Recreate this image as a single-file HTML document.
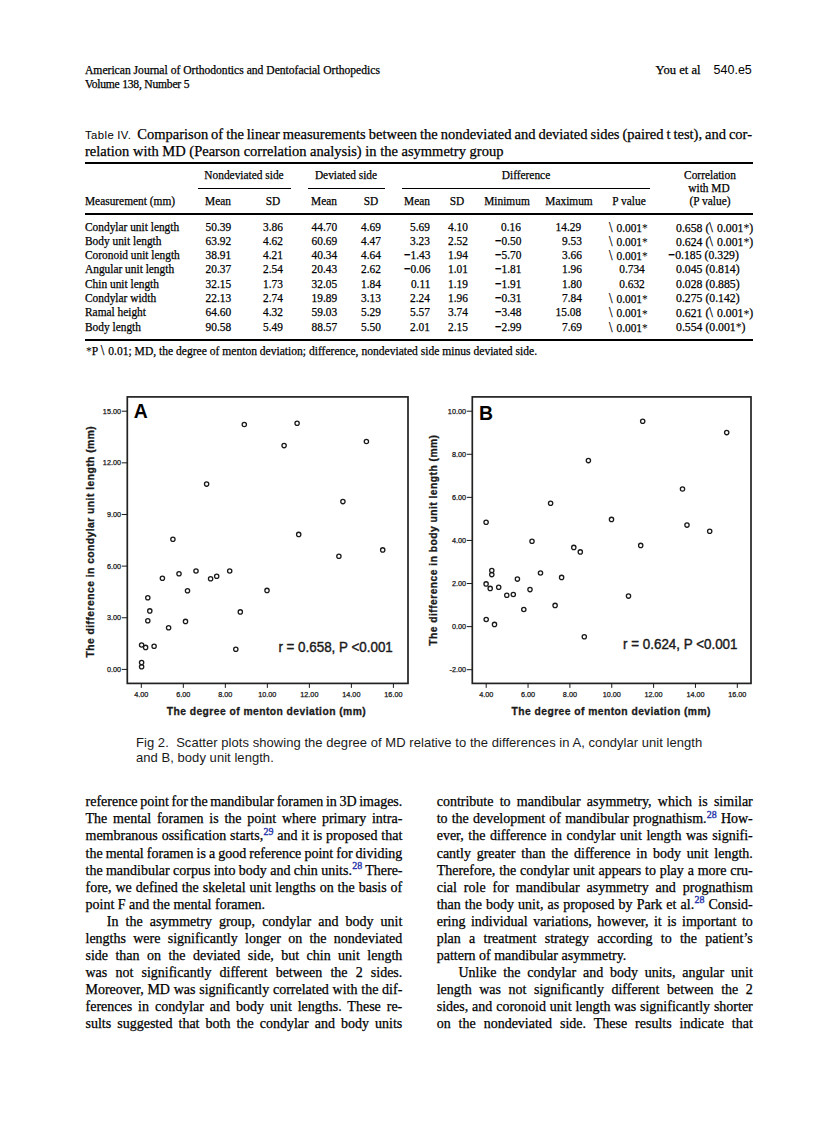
<!DOCTYPE html>
<html><head><meta charset="utf-8"><style>
html,body{margin:0;padding:0;background:#fff;}
body{width:838px;height:1122px;position:relative;overflow:hidden;font-family:"Liberation Serif",serif;color:#000;}
.b{position:absolute;white-space:nowrap;line-height:1;-webkit-text-stroke:0.25px #000;}
.r{position:absolute;background:#000;}
sup.ref{color:#1f30a8;-webkit-text-stroke:0.35px #1f30a8;font-size:0.71em;vertical-align:0;position:relative;top:-0.53em;margin-left:0.3px;}
sup.st{font-size:0.75em;vertical-align:0;position:relative;top:-0.3em;}
.bs{font-size:1.12em;margin:0 1.2px 0 0;}
.as{font-size:1.0em;-webkit-text-stroke:0;position:relative;top:0.02em;line-height:0;}
.m{font-family:'Liberation Sans',sans-serif;font-weight:700;-webkit-text-stroke:0;margin-right:0.3px;}
svg{position:absolute;left:0;top:0;}
svg text{font-family:"Liberation Sans",sans-serif;}
.tk{font-size:7.9px;fill:#111;stroke:#111;stroke-width:0.25px;}
.lt{font-size:19.4px;font-weight:700;fill:#000;}
.al{font-size:10.3px;font-weight:700;fill:#1a1a1a;stroke:#1a1a1a;stroke-width:0.3px;}
.rt{font-size:13.9px;fill:#1a1a1a;stroke:#1a1a1a;stroke-width:0.4px;}
circle{fill:none;stroke:#1a1a1a;stroke-width:1.3;}
</style></head><body>
<div class="b" style="left:85.00px;top:65.08px;font-size:11.6px;">American Journal of Orthodontics and Dentofacial Orthopedics</div>
<div class="b" style="left:85.00px;top:78.58px;font-size:11.6px;letter-spacing:-0.22px;">Volume 138, Number 5</div>
<div class="b" style="right:137.50px;text-align:right;top:64.05px;font-size:12.6px;">You et al</div>
<div class="b" style="right:86.20px;text-align:right;top:63.62px;font-family:'Liberation Sans', sans-serif;-webkit-text-stroke:0;font-size:12.5px;">540.e5</div>
<div class="b" style="left:85.00px;width:667.00px;text-align:justify;text-align-last:justify;top:127.46px;font-size:14.5px;word-spacing:-0.9px;"><span style="font-family:'Liberation Sans',sans-serif;font-size:11.3px;letter-spacing:0.45px;-webkit-text-stroke:0">Table IV.</span>&nbsp; Comparison of the linear measurements between the nondeviated and deviated sides (paired t test), and cor-</div>
<div class="b" style="left:85.00px;top:144.16px;font-size:14.5px;">relation with MD (Pearson correlation analysis) in the asymmetry group</div>
<div class="r" style="left:85px;width:667.5px;top:162px;height:2px"></div>
<div class="r" style="left:198px;width:93.30000000000001px;top:187.5px;height:1.6px"></div>
<div class="r" style="left:308.2px;width:76.90000000000003px;top:187.5px;height:1.6px"></div>
<div class="r" style="left:402px;width:248.39999999999998px;top:187.5px;height:1.6px"></div>
<div class="r" style="left:85px;width:667.5px;top:213px;height:2.3px"></div>
<div class="r" style="left:85px;width:667.5px;top:339.2px;height:1.7px"></div>
<div class="b" style="left:44.00px;width:400px;text-align:center;top:169.23px;font-size:12.5px;transform:scaleX(0.91);transform-origin:center 0;">Nondeviated side</div>
<div class="b" style="left:146.00px;width:400px;text-align:center;top:169.23px;font-size:12.5px;transform:scaleX(0.91);transform-origin:center 0;">Deviated side</div>
<div class="b" style="left:325.80px;width:400px;text-align:center;top:168.93px;font-size:12.5px;transform:scaleX(0.91);transform-origin:center 0;">Difference</div>
<div class="b" style="left:509.70px;width:400px;text-align:center;top:168.63px;font-size:12.5px;transform:scaleX(0.91);transform-origin:center 0;">Correlation</div>
<div class="b" style="left:509.40px;width:400px;text-align:center;top:181.53px;font-size:12.5px;transform:scaleX(0.91);transform-origin:center 0;">with MD</div>
<div class="b" style="left:509.90px;width:400px;text-align:center;top:194.93px;font-size:12.5px;transform:scaleX(0.91);transform-origin:center 0;">(P value)</div>
<div class="b" style="left:85.00px;top:194.73px;font-size:12.5px;transform:scaleX(0.91);transform-origin:left 0;">Measurement (mm)</div>
<div class="b" style="left:17.80px;width:400px;text-align:center;top:194.83px;font-size:12.5px;transform:scaleX(0.91);transform-origin:center 0;">Mean</div>
<div class="b" style="left:72.70px;width:400px;text-align:center;top:194.83px;font-size:12.5px;transform:scaleX(0.91);transform-origin:center 0;">SD</div>
<div class="b" style="left:123.90px;width:400px;text-align:center;top:194.83px;font-size:12.5px;transform:scaleX(0.91);transform-origin:center 0;">Mean</div>
<div class="b" style="left:171.20px;width:400px;text-align:center;top:194.83px;font-size:12.5px;transform:scaleX(0.91);transform-origin:center 0;">SD</div>
<div class="b" style="left:216.50px;width:400px;text-align:center;top:194.83px;font-size:12.5px;transform:scaleX(0.91);transform-origin:center 0;">Mean</div>
<div class="b" style="left:257.30px;width:400px;text-align:center;top:194.83px;font-size:12.5px;transform:scaleX(0.91);transform-origin:center 0;">SD</div>
<div class="b" style="left:306.70px;width:400px;text-align:center;top:194.83px;font-size:12.5px;transform:scaleX(0.91);transform-origin:center 0;">Minimum</div>
<div class="b" style="left:369.10px;width:400px;text-align:center;top:194.83px;font-size:12.5px;transform:scaleX(0.91);transform-origin:center 0;">Maximum</div>
<div class="b" style="left:429.00px;width:400px;text-align:center;top:194.83px;font-size:12.5px;transform:scaleX(0.91);transform-origin:center 0;">P value</div>
<div class="b" style="left:85.00px;top:220.53px;font-size:12.5px;transform:scaleX(0.91);transform-origin:left 0;">Condylar unit length</div>
<div class="b" style="right:607.20px;text-align:right;top:220.53px;font-size:12.5px;transform:scaleX(0.91);transform-origin:right 0;">50.39</div>
<div class="b" style="right:555.00px;text-align:right;top:220.53px;font-size:12.5px;transform:scaleX(0.91);transform-origin:right 0;">3.86</div>
<div class="b" style="right:500.70px;text-align:right;top:220.53px;font-size:12.5px;transform:scaleX(0.91);transform-origin:right 0;">44.70</div>
<div class="b" style="right:456.80px;text-align:right;top:220.53px;font-size:12.5px;transform:scaleX(0.91);transform-origin:right 0;">4.69</div>
<div class="b" style="right:407.70px;text-align:right;top:220.53px;font-size:12.5px;transform:scaleX(0.91);transform-origin:right 0;">5.69</div>
<div class="b" style="right:370.50px;text-align:right;top:220.53px;font-size:12.5px;transform:scaleX(0.91);transform-origin:right 0;">4.10</div>
<div class="b" style="right:317.00px;text-align:right;top:220.53px;font-size:12.5px;transform:scaleX(0.91);transform-origin:right 0;">0.16</div>
<div class="b" style="right:256.50px;text-align:right;top:220.53px;font-size:12.5px;transform:scaleX(0.91);transform-origin:right 0;">14.29</div>
<div class="b" style="left:608.80px;top:220.53px;font-size:12.5px;transform:scaleX(0.91);transform-origin:left 0;"><span class="bs">\</span> 0.001<span class="as">*</span></div>
<div class="b" style="left:676.00px;top:220.53px;font-size:12.5px;transform:scaleX(0.94);transform-origin:left 0;">0.658 (<span class="bs">\</span> 0.001<span class="as">*</span>)</div>
<div class="b" style="left:85.00px;top:234.83px;font-size:12.5px;transform:scaleX(0.91);transform-origin:left 0;">Body unit length</div>
<div class="b" style="right:607.20px;text-align:right;top:234.83px;font-size:12.5px;transform:scaleX(0.91);transform-origin:right 0;">63.92</div>
<div class="b" style="right:555.00px;text-align:right;top:234.83px;font-size:12.5px;transform:scaleX(0.91);transform-origin:right 0;">4.62</div>
<div class="b" style="right:500.70px;text-align:right;top:234.83px;font-size:12.5px;transform:scaleX(0.91);transform-origin:right 0;">60.69</div>
<div class="b" style="right:456.80px;text-align:right;top:234.83px;font-size:12.5px;transform:scaleX(0.91);transform-origin:right 0;">4.47</div>
<div class="b" style="right:407.70px;text-align:right;top:234.83px;font-size:12.5px;transform:scaleX(0.91);transform-origin:right 0;">3.23</div>
<div class="b" style="right:370.50px;text-align:right;top:234.83px;font-size:12.5px;transform:scaleX(0.91);transform-origin:right 0;">2.52</div>
<div class="b" style="right:317.00px;text-align:right;top:234.83px;font-size:12.5px;transform:scaleX(0.91);transform-origin:right 0;"><span class="m">−</span>0.50</div>
<div class="b" style="right:256.50px;text-align:right;top:234.83px;font-size:12.5px;transform:scaleX(0.91);transform-origin:right 0;">9.53</div>
<div class="b" style="left:608.80px;top:234.83px;font-size:12.5px;transform:scaleX(0.91);transform-origin:left 0;"><span class="bs">\</span> 0.001<span class="as">*</span></div>
<div class="b" style="left:676.00px;top:234.83px;font-size:12.5px;transform:scaleX(0.94);transform-origin:left 0;">0.624 (<span class="bs">\</span> 0.001<span class="as">*</span>)</div>
<div class="b" style="left:85.00px;top:249.13px;font-size:12.5px;transform:scaleX(0.91);transform-origin:left 0;">Coronoid unit length</div>
<div class="b" style="right:607.20px;text-align:right;top:249.13px;font-size:12.5px;transform:scaleX(0.91);transform-origin:right 0;">38.91</div>
<div class="b" style="right:555.00px;text-align:right;top:249.13px;font-size:12.5px;transform:scaleX(0.91);transform-origin:right 0;">4.21</div>
<div class="b" style="right:500.70px;text-align:right;top:249.13px;font-size:12.5px;transform:scaleX(0.91);transform-origin:right 0;">40.34</div>
<div class="b" style="right:456.80px;text-align:right;top:249.13px;font-size:12.5px;transform:scaleX(0.91);transform-origin:right 0;">4.64</div>
<div class="b" style="right:407.70px;text-align:right;top:249.13px;font-size:12.5px;transform:scaleX(0.91);transform-origin:right 0;"><span class="m">−</span>1.43</div>
<div class="b" style="right:370.50px;text-align:right;top:249.13px;font-size:12.5px;transform:scaleX(0.91);transform-origin:right 0;">1.94</div>
<div class="b" style="right:317.00px;text-align:right;top:249.13px;font-size:12.5px;transform:scaleX(0.91);transform-origin:right 0;"><span class="m">−</span>5.70</div>
<div class="b" style="right:256.50px;text-align:right;top:249.13px;font-size:12.5px;transform:scaleX(0.91);transform-origin:right 0;">3.66</div>
<div class="b" style="left:608.80px;top:249.13px;font-size:12.5px;transform:scaleX(0.91);transform-origin:left 0;"><span class="bs">\</span> 0.001<span class="as">*</span></div>
<div class="b" style="left:667.70px;top:249.13px;font-size:12.5px;transform:scaleX(0.94);transform-origin:left 0;"><span class="m">−</span>0.185 (0.329)</div>
<div class="b" style="left:85.00px;top:263.43px;font-size:12.5px;transform:scaleX(0.91);transform-origin:left 0;">Angular unit length</div>
<div class="b" style="right:607.20px;text-align:right;top:263.43px;font-size:12.5px;transform:scaleX(0.91);transform-origin:right 0;">20.37</div>
<div class="b" style="right:555.00px;text-align:right;top:263.43px;font-size:12.5px;transform:scaleX(0.91);transform-origin:right 0;">2.54</div>
<div class="b" style="right:500.70px;text-align:right;top:263.43px;font-size:12.5px;transform:scaleX(0.91);transform-origin:right 0;">20.43</div>
<div class="b" style="right:456.80px;text-align:right;top:263.43px;font-size:12.5px;transform:scaleX(0.91);transform-origin:right 0;">2.62</div>
<div class="b" style="right:407.70px;text-align:right;top:263.43px;font-size:12.5px;transform:scaleX(0.91);transform-origin:right 0;"><span class="m">−</span>0.06</div>
<div class="b" style="right:370.50px;text-align:right;top:263.43px;font-size:12.5px;transform:scaleX(0.91);transform-origin:right 0;">1.01</div>
<div class="b" style="right:317.00px;text-align:right;top:263.43px;font-size:12.5px;transform:scaleX(0.91);transform-origin:right 0;"><span class="m">−</span>1.81</div>
<div class="b" style="right:256.50px;text-align:right;top:263.43px;font-size:12.5px;transform:scaleX(0.91);transform-origin:right 0;">1.96</div>
<div class="b" style="left:431.50px;width:400px;text-align:center;top:263.43px;font-size:12.5px;transform:scaleX(0.91);transform-origin:center 0;">0.734</div>
<div class="b" style="left:676.00px;top:263.43px;font-size:12.5px;transform:scaleX(0.94);transform-origin:left 0;">0.045 (0.814)</div>
<div class="b" style="left:85.00px;top:277.73px;font-size:12.5px;transform:scaleX(0.91);transform-origin:left 0;">Chin unit length</div>
<div class="b" style="right:607.20px;text-align:right;top:277.73px;font-size:12.5px;transform:scaleX(0.91);transform-origin:right 0;">32.15</div>
<div class="b" style="right:555.00px;text-align:right;top:277.73px;font-size:12.5px;transform:scaleX(0.91);transform-origin:right 0;">1.73</div>
<div class="b" style="right:500.70px;text-align:right;top:277.73px;font-size:12.5px;transform:scaleX(0.91);transform-origin:right 0;">32.05</div>
<div class="b" style="right:456.80px;text-align:right;top:277.73px;font-size:12.5px;transform:scaleX(0.91);transform-origin:right 0;">1.84</div>
<div class="b" style="right:407.70px;text-align:right;top:277.73px;font-size:12.5px;transform:scaleX(0.91);transform-origin:right 0;">0.11</div>
<div class="b" style="right:370.50px;text-align:right;top:277.73px;font-size:12.5px;transform:scaleX(0.91);transform-origin:right 0;">1.19</div>
<div class="b" style="right:317.00px;text-align:right;top:277.73px;font-size:12.5px;transform:scaleX(0.91);transform-origin:right 0;"><span class="m">−</span>1.91</div>
<div class="b" style="right:256.50px;text-align:right;top:277.73px;font-size:12.5px;transform:scaleX(0.91);transform-origin:right 0;">1.80</div>
<div class="b" style="left:431.50px;width:400px;text-align:center;top:277.73px;font-size:12.5px;transform:scaleX(0.91);transform-origin:center 0;">0.632</div>
<div class="b" style="left:676.00px;top:277.73px;font-size:12.5px;transform:scaleX(0.94);transform-origin:left 0;">0.028 (0.885)</div>
<div class="b" style="left:85.00px;top:292.03px;font-size:12.5px;transform:scaleX(0.91);transform-origin:left 0;">Condylar width</div>
<div class="b" style="right:607.20px;text-align:right;top:292.03px;font-size:12.5px;transform:scaleX(0.91);transform-origin:right 0;">22.13</div>
<div class="b" style="right:555.00px;text-align:right;top:292.03px;font-size:12.5px;transform:scaleX(0.91);transform-origin:right 0;">2.74</div>
<div class="b" style="right:500.70px;text-align:right;top:292.03px;font-size:12.5px;transform:scaleX(0.91);transform-origin:right 0;">19.89</div>
<div class="b" style="right:456.80px;text-align:right;top:292.03px;font-size:12.5px;transform:scaleX(0.91);transform-origin:right 0;">3.13</div>
<div class="b" style="right:407.70px;text-align:right;top:292.03px;font-size:12.5px;transform:scaleX(0.91);transform-origin:right 0;">2.24</div>
<div class="b" style="right:370.50px;text-align:right;top:292.03px;font-size:12.5px;transform:scaleX(0.91);transform-origin:right 0;">1.96</div>
<div class="b" style="right:317.00px;text-align:right;top:292.03px;font-size:12.5px;transform:scaleX(0.91);transform-origin:right 0;"><span class="m">−</span>0.31</div>
<div class="b" style="right:256.50px;text-align:right;top:292.03px;font-size:12.5px;transform:scaleX(0.91);transform-origin:right 0;">7.84</div>
<div class="b" style="left:608.80px;top:292.03px;font-size:12.5px;transform:scaleX(0.91);transform-origin:left 0;"><span class="bs">\</span> 0.001<span class="as">*</span></div>
<div class="b" style="left:676.00px;top:292.03px;font-size:12.5px;transform:scaleX(0.94);transform-origin:left 0;">0.275 (0.142)</div>
<div class="b" style="left:85.00px;top:306.33px;font-size:12.5px;transform:scaleX(0.91);transform-origin:left 0;">Ramal height</div>
<div class="b" style="right:607.20px;text-align:right;top:306.33px;font-size:12.5px;transform:scaleX(0.91);transform-origin:right 0;">64.60</div>
<div class="b" style="right:555.00px;text-align:right;top:306.33px;font-size:12.5px;transform:scaleX(0.91);transform-origin:right 0;">4.32</div>
<div class="b" style="right:500.70px;text-align:right;top:306.33px;font-size:12.5px;transform:scaleX(0.91);transform-origin:right 0;">59.03</div>
<div class="b" style="right:456.80px;text-align:right;top:306.33px;font-size:12.5px;transform:scaleX(0.91);transform-origin:right 0;">5.29</div>
<div class="b" style="right:407.70px;text-align:right;top:306.33px;font-size:12.5px;transform:scaleX(0.91);transform-origin:right 0;">5.57</div>
<div class="b" style="right:370.50px;text-align:right;top:306.33px;font-size:12.5px;transform:scaleX(0.91);transform-origin:right 0;">3.74</div>
<div class="b" style="right:317.00px;text-align:right;top:306.33px;font-size:12.5px;transform:scaleX(0.91);transform-origin:right 0;"><span class="m">−</span>3.48</div>
<div class="b" style="right:256.50px;text-align:right;top:306.33px;font-size:12.5px;transform:scaleX(0.91);transform-origin:right 0;">15.08</div>
<div class="b" style="left:608.80px;top:306.33px;font-size:12.5px;transform:scaleX(0.91);transform-origin:left 0;"><span class="bs">\</span> 0.001<span class="as">*</span></div>
<div class="b" style="left:676.00px;top:306.33px;font-size:12.5px;transform:scaleX(0.94);transform-origin:left 0;">0.621 (<span class="bs">\</span> 0.001<span class="as">*</span>)</div>
<div class="b" style="left:85.00px;top:320.63px;font-size:12.5px;transform:scaleX(0.91);transform-origin:left 0;">Body length</div>
<div class="b" style="right:607.20px;text-align:right;top:320.63px;font-size:12.5px;transform:scaleX(0.91);transform-origin:right 0;">90.58</div>
<div class="b" style="right:555.00px;text-align:right;top:320.63px;font-size:12.5px;transform:scaleX(0.91);transform-origin:right 0;">5.49</div>
<div class="b" style="right:500.70px;text-align:right;top:320.63px;font-size:12.5px;transform:scaleX(0.91);transform-origin:right 0;">88.57</div>
<div class="b" style="right:456.80px;text-align:right;top:320.63px;font-size:12.5px;transform:scaleX(0.91);transform-origin:right 0;">5.50</div>
<div class="b" style="right:407.70px;text-align:right;top:320.63px;font-size:12.5px;transform:scaleX(0.91);transform-origin:right 0;">2.01</div>
<div class="b" style="right:370.50px;text-align:right;top:320.63px;font-size:12.5px;transform:scaleX(0.91);transform-origin:right 0;">2.15</div>
<div class="b" style="right:317.00px;text-align:right;top:320.63px;font-size:12.5px;transform:scaleX(0.91);transform-origin:right 0;"><span class="m">−</span>2.99</div>
<div class="b" style="right:256.50px;text-align:right;top:320.63px;font-size:12.5px;transform:scaleX(0.91);transform-origin:right 0;">7.69</div>
<div class="b" style="left:608.80px;top:320.63px;font-size:12.5px;transform:scaleX(0.91);transform-origin:left 0;"><span class="bs">\</span> 0.001<span class="as">*</span></div>
<div class="b" style="left:676.00px;top:320.63px;font-size:12.5px;transform:scaleX(0.94);transform-origin:left 0;">0.554 (0.001<span class="as">*</span>)</div>
<div class="b" style="left:85.50px;top:343.63px;font-size:12.5px;transform:scaleX(0.925);transform-origin:left 0;"><span class="as">*</span>P <span class="bs">\</span> 0.01; MD, the degree of menton deviation; difference, nondeviated side minus deviated side.</div>
<div class="b" style="left:136.00px;top:736.20px;font-family:'Liberation Sans', sans-serif;-webkit-text-stroke:0;font-size:13px;color:#1a1a1a;letter-spacing:0.05px;">Fig 2.&nbsp; Scatter plots showing the degree of MD relative to the differences in A, condylar unit length</div>
<div class="b" style="left:136.00px;top:750.70px;font-family:'Liberation Sans', sans-serif;-webkit-text-stroke:0;font-size:13px;color:#1a1a1a;letter-spacing:0.05px;">and B, body unit length.</div>
<div class="b" style="left:85.50px;width:316.80px;text-align:justify;text-align-last:justify;top:795.27px;font-size:14px;word-spacing:-1.06px;">reference point for the mandibular foramen in 3D images.</div>
<div class="b" style="left:85.50px;width:316.80px;text-align:justify;text-align-last:justify;top:812.36px;font-size:14px;">The mental foramen is the point where primary intra-</div>
<div class="b" style="left:85.50px;width:316.80px;text-align:justify;text-align-last:justify;top:829.43px;font-size:14px;">membranous ossification starts,<sup class="ref">29</sup> and it is proposed that</div>
<div class="b" style="left:85.50px;width:316.80px;text-align:justify;text-align-last:justify;top:846.51px;font-size:14px;word-spacing:-0.60px;">the mental foramen is a good reference point for dividing</div>
<div class="b" style="left:85.50px;width:316.80px;text-align:justify;text-align-last:justify;top:863.59px;font-size:14px;word-spacing:-0.16px;">the mandibular corpus into body and chin units.<sup class="ref">28</sup> There-</div>
<div class="b" style="left:85.50px;width:316.80px;text-align:justify;text-align-last:justify;top:880.67px;font-size:14px;">fore, we defined the skeletal unit lengths on the basis of</div>
<div class="b" style="left:85.50px;top:897.75px;font-size:14px;">point F and the mental foramen.</div>
<div class="b" style="left:106.80px;width:295.50px;text-align:justify;text-align-last:justify;top:914.83px;font-size:14px;">In the asymmetry group, condylar and body unit</div>
<div class="b" style="left:85.50px;width:316.80px;text-align:justify;text-align-last:justify;top:931.91px;font-size:14px;">lengths were significantly longer on the nondeviated</div>
<div class="b" style="left:85.50px;width:316.80px;text-align:justify;text-align-last:justify;top:949.00px;font-size:14px;">side than on the deviated side, but chin unit length</div>
<div class="b" style="left:85.50px;width:316.80px;text-align:justify;text-align-last:justify;top:966.07px;font-size:14px;">was not significantly different between the 2 sides.</div>
<div class="b" style="left:85.50px;width:316.80px;text-align:justify;text-align-last:justify;top:983.15px;font-size:14px;">Moreover, MD was significantly correlated with the dif-</div>
<div class="b" style="left:85.50px;width:316.80px;text-align:justify;text-align-last:justify;top:1000.24px;font-size:14px;">ferences in condylar and body unit lengths. These re-</div>
<div class="b" style="left:85.50px;width:316.80px;text-align:justify;text-align-last:justify;top:1017.31px;font-size:14px;">sults suggested that both the condylar and body units</div>
<div class="b" style="left:436.70px;width:316.10px;text-align:justify;text-align-last:justify;top:795.27px;font-size:14px;">contribute to mandibular asymmetry, which is similar</div>
<div class="b" style="left:436.70px;width:316.10px;text-align:justify;text-align-last:justify;top:812.36px;font-size:14px;">to the development of mandibular prognathism.<sup class="ref">28</sup> How-</div>
<div class="b" style="left:436.70px;width:316.10px;text-align:justify;text-align-last:justify;top:829.43px;font-size:14px;">ever, the difference in condylar unit length was signifi-</div>
<div class="b" style="left:436.70px;width:316.10px;text-align:justify;text-align-last:justify;top:846.51px;font-size:14px;">cantly greater than the difference in body unit length.</div>
<div class="b" style="left:436.70px;width:316.10px;text-align:justify;text-align-last:justify;top:863.59px;font-size:14px;">Therefore, the condylar unit appears to play a more cru-</div>
<div class="b" style="left:436.70px;width:316.10px;text-align:justify;text-align-last:justify;top:880.67px;font-size:14px;">cial role for mandibular asymmetry and prognathism</div>
<div class="b" style="left:436.70px;width:316.10px;text-align:justify;text-align-last:justify;top:897.75px;font-size:14px;">than the body unit, as proposed by Park et al.<sup class="ref">28</sup> Consid-</div>
<div class="b" style="left:436.70px;width:316.10px;text-align:justify;text-align-last:justify;top:914.83px;font-size:14px;">ering individual variations, however, it is important to</div>
<div class="b" style="left:436.70px;width:316.10px;text-align:justify;text-align-last:justify;top:931.91px;font-size:14px;">plan a treatment strategy according to the patient’s</div>
<div class="b" style="left:436.70px;top:949.00px;font-size:14px;">pattern of mandibular asymmetry.</div>
<div class="b" style="left:458.40px;width:294.40px;text-align:justify;text-align-last:justify;top:966.07px;font-size:14px;">Unlike the condylar and body units, angular unit</div>
<div class="b" style="left:436.70px;width:316.10px;text-align:justify;text-align-last:justify;top:983.15px;font-size:14px;">length was not significantly different between the 2</div>
<div class="b" style="left:436.70px;width:316.10px;text-align:justify;text-align-last:justify;top:1000.24px;font-size:14px;">sides, and coronoid unit length was significantly shorter</div>
<div class="b" style="left:436.70px;width:316.10px;text-align:justify;text-align-last:justify;top:1017.31px;font-size:14px;">on the nondeviated side. These results indicate that</div>
<svg width="838" height="1122" viewBox="0 0 838 1122">
<rect x="127.3" y="396.9" width="280.7" height="286.5" fill="none" stroke="#222" stroke-width="1.7"/>
<line x1="141.30" y1="683.4" x2="141.30" y2="687.9" stroke="#1a1a1a" stroke-width="1"/>
<text x="141.30" y="697" class="tk" text-anchor="middle" textLength="14.11" lengthAdjust="spacingAndGlyphs">4.00</text>
<line x1="183.32" y1="683.4" x2="183.32" y2="687.9" stroke="#1a1a1a" stroke-width="1"/>
<text x="183.32" y="697" class="tk" text-anchor="middle" textLength="14.11" lengthAdjust="spacingAndGlyphs">6.00</text>
<line x1="225.33" y1="683.4" x2="225.33" y2="687.9" stroke="#1a1a1a" stroke-width="1"/>
<text x="225.33" y="697" class="tk" text-anchor="middle" textLength="14.11" lengthAdjust="spacingAndGlyphs">8.00</text>
<line x1="267.35" y1="683.4" x2="267.35" y2="687.9" stroke="#1a1a1a" stroke-width="1"/>
<text x="267.35" y="697" class="tk" text-anchor="middle" textLength="18.14" lengthAdjust="spacingAndGlyphs">10.00</text>
<line x1="309.37" y1="683.4" x2="309.37" y2="687.9" stroke="#1a1a1a" stroke-width="1"/>
<text x="309.37" y="697" class="tk" text-anchor="middle" textLength="18.14" lengthAdjust="spacingAndGlyphs">12.00</text>
<line x1="351.38" y1="683.4" x2="351.38" y2="687.9" stroke="#1a1a1a" stroke-width="1"/>
<text x="351.38" y="697" class="tk" text-anchor="middle" textLength="18.14" lengthAdjust="spacingAndGlyphs">14.00</text>
<line x1="393.40" y1="683.4" x2="393.40" y2="687.9" stroke="#1a1a1a" stroke-width="1"/>
<text x="393.40" y="697" class="tk" text-anchor="middle" textLength="18.14" lengthAdjust="spacingAndGlyphs">16.00</text>
<line x1="121.8" y1="669.40" x2="127.3" y2="669.40" stroke="#1a1a1a" stroke-width="1"/>
<text x="121.0" y="671.90" class="tk" text-anchor="end" textLength="14.11" lengthAdjust="spacingAndGlyphs">0.00</text>
<line x1="121.8" y1="617.76" x2="127.3" y2="617.76" stroke="#1a1a1a" stroke-width="1"/>
<text x="121.0" y="620.26" class="tk" text-anchor="end" textLength="14.11" lengthAdjust="spacingAndGlyphs">3.00</text>
<line x1="121.8" y1="566.12" x2="127.3" y2="566.12" stroke="#1a1a1a" stroke-width="1"/>
<text x="121.0" y="568.62" class="tk" text-anchor="end" textLength="14.11" lengthAdjust="spacingAndGlyphs">6.00</text>
<line x1="121.8" y1="514.48" x2="127.3" y2="514.48" stroke="#1a1a1a" stroke-width="1"/>
<text x="121.0" y="516.98" class="tk" text-anchor="end" textLength="14.11" lengthAdjust="spacingAndGlyphs">9.00</text>
<line x1="121.8" y1="462.84" x2="127.3" y2="462.84" stroke="#1a1a1a" stroke-width="1"/>
<text x="121.0" y="465.34" class="tk" text-anchor="end" textLength="18.14" lengthAdjust="spacingAndGlyphs">12.00</text>
<line x1="121.8" y1="411.20" x2="127.3" y2="411.20" stroke="#1a1a1a" stroke-width="1"/>
<text x="121.0" y="413.70" class="tk" text-anchor="end" textLength="18.14" lengthAdjust="spacingAndGlyphs">15.00</text>
<circle cx="244.3" cy="424.5" r="2.15"/>
<circle cx="297.1" cy="423.3" r="2.15"/>
<circle cx="284.1" cy="445.6" r="2.15"/>
<circle cx="366.4" cy="441.5" r="2.15"/>
<circle cx="206.6" cy="484.1" r="2.15"/>
<circle cx="342.9" cy="501.6" r="2.15"/>
<circle cx="298.7" cy="534.4" r="2.15"/>
<circle cx="172.9" cy="539.3" r="2.15"/>
<circle cx="382.7" cy="549.9" r="2.15"/>
<circle cx="338.9" cy="556.3" r="2.15"/>
<circle cx="196.0" cy="571" r="2.15"/>
<circle cx="229.7" cy="571" r="2.15"/>
<circle cx="179.0" cy="573.8" r="2.15"/>
<circle cx="216.7" cy="576.2" r="2.15"/>
<circle cx="210.6" cy="578.7" r="2.15"/>
<circle cx="162.4" cy="578.3" r="2.15"/>
<circle cx="187.5" cy="590.8" r="2.15"/>
<circle cx="267.0" cy="590.4" r="2.15"/>
<circle cx="147.8" cy="597.7" r="2.15"/>
<circle cx="149.8" cy="610.9" r="2.15"/>
<circle cx="240.3" cy="611.9" r="2.15"/>
<circle cx="147.8" cy="620.7" r="2.15"/>
<circle cx="168.6" cy="627.8" r="2.15"/>
<circle cx="185.5" cy="621.4" r="2.15"/>
<circle cx="141.6" cy="645.0" r="2.15"/>
<circle cx="145.6" cy="647.4" r="2.15"/>
<circle cx="154.1" cy="646.3" r="2.15"/>
<circle cx="235.8" cy="649.3" r="2.15"/>
<circle cx="141.6" cy="662.6" r="2.15"/>
<circle cx="141.6" cy="666.7" r="2.15"/>
<text x="133.8" y="418.2" class="lt">A</text>
<text transform="translate(94.3,541.9) rotate(-90)" class="al" text-anchor="middle" textLength="231.3" lengthAdjust="spacing">The difference in condylar unit length (mm)</text>
<text x="266.2" y="714.5" class="al" text-anchor="middle" textLength="199" lengthAdjust="spacing">The degree of menton deviation (mm)</text>
<text x="392.8" y="652.1" class="rt" text-anchor="end" textLength="114.4" lengthAdjust="spacingAndGlyphs">r = 0.658, P &lt;0.001</text>
<rect x="472.3" y="396.9" width="278.7" height="286.5" fill="none" stroke="#222" stroke-width="1.7"/>
<line x1="486.20" y1="683.4" x2="486.20" y2="687.9" stroke="#1a1a1a" stroke-width="1"/>
<text x="486.20" y="697" class="tk" text-anchor="middle" textLength="14.11" lengthAdjust="spacingAndGlyphs">4.00</text>
<line x1="528.05" y1="683.4" x2="528.05" y2="687.9" stroke="#1a1a1a" stroke-width="1"/>
<text x="528.05" y="697" class="tk" text-anchor="middle" textLength="14.11" lengthAdjust="spacingAndGlyphs">6.00</text>
<line x1="569.90" y1="683.4" x2="569.90" y2="687.9" stroke="#1a1a1a" stroke-width="1"/>
<text x="569.90" y="697" class="tk" text-anchor="middle" textLength="14.11" lengthAdjust="spacingAndGlyphs">8.00</text>
<line x1="611.75" y1="683.4" x2="611.75" y2="687.9" stroke="#1a1a1a" stroke-width="1"/>
<text x="611.75" y="697" class="tk" text-anchor="middle" textLength="18.14" lengthAdjust="spacingAndGlyphs">10.00</text>
<line x1="653.60" y1="683.4" x2="653.60" y2="687.9" stroke="#1a1a1a" stroke-width="1"/>
<text x="653.60" y="697" class="tk" text-anchor="middle" textLength="18.14" lengthAdjust="spacingAndGlyphs">12.00</text>
<line x1="695.45" y1="683.4" x2="695.45" y2="687.9" stroke="#1a1a1a" stroke-width="1"/>
<text x="695.45" y="697" class="tk" text-anchor="middle" textLength="18.14" lengthAdjust="spacingAndGlyphs">14.00</text>
<line x1="737.30" y1="683.4" x2="737.30" y2="687.9" stroke="#1a1a1a" stroke-width="1"/>
<text x="737.30" y="697" class="tk" text-anchor="middle" textLength="18.14" lengthAdjust="spacingAndGlyphs">16.00</text>
<line x1="466.8" y1="669.70" x2="472.3" y2="669.70" stroke="#1a1a1a" stroke-width="1"/>
<text x="466.0" y="672.20" class="tk" text-anchor="end" textLength="16.53" lengthAdjust="spacingAndGlyphs">-2.00</text>
<line x1="466.8" y1="626.62" x2="472.3" y2="626.62" stroke="#1a1a1a" stroke-width="1"/>
<text x="466.0" y="629.12" class="tk" text-anchor="end" textLength="14.11" lengthAdjust="spacingAndGlyphs">0.00</text>
<line x1="466.8" y1="583.53" x2="472.3" y2="583.53" stroke="#1a1a1a" stroke-width="1"/>
<text x="466.0" y="586.03" class="tk" text-anchor="end" textLength="14.11" lengthAdjust="spacingAndGlyphs">2.00</text>
<line x1="466.8" y1="540.45" x2="472.3" y2="540.45" stroke="#1a1a1a" stroke-width="1"/>
<text x="466.0" y="542.95" class="tk" text-anchor="end" textLength="14.11" lengthAdjust="spacingAndGlyphs">4.00</text>
<line x1="466.8" y1="497.37" x2="472.3" y2="497.37" stroke="#1a1a1a" stroke-width="1"/>
<text x="466.0" y="499.87" class="tk" text-anchor="end" textLength="14.11" lengthAdjust="spacingAndGlyphs">6.00</text>
<line x1="466.8" y1="454.28" x2="472.3" y2="454.28" stroke="#1a1a1a" stroke-width="1"/>
<text x="466.0" y="456.78" class="tk" text-anchor="end" textLength="14.11" lengthAdjust="spacingAndGlyphs">8.00</text>
<line x1="466.8" y1="411.20" x2="472.3" y2="411.20" stroke="#1a1a1a" stroke-width="1"/>
<text x="466.0" y="413.70" class="tk" text-anchor="end" textLength="18.14" lengthAdjust="spacingAndGlyphs">10.00</text>
<circle cx="642.7" cy="421.2" r="2.15"/>
<circle cx="726.7" cy="432.6" r="2.15"/>
<circle cx="588.4" cy="460.6" r="2.15"/>
<circle cx="682.5" cy="489" r="2.15"/>
<circle cx="550.6" cy="503.2" r="2.15"/>
<circle cx="486.1" cy="522.3" r="2.15"/>
<circle cx="611.5" cy="519.4" r="2.15"/>
<circle cx="687" cy="525.1" r="2.15"/>
<circle cx="709.7" cy="531.2" r="2.15"/>
<circle cx="532" cy="541.3" r="2.15"/>
<circle cx="573.8" cy="547.4" r="2.15"/>
<circle cx="580.3" cy="551.9" r="2.15"/>
<circle cx="640.7" cy="545.4" r="2.15"/>
<circle cx="491.8" cy="570.6" r="2.15"/>
<circle cx="491.8" cy="574.6" r="2.15"/>
<circle cx="540.5" cy="573" r="2.15"/>
<circle cx="517.4" cy="579.1" r="2.15"/>
<circle cx="561.6" cy="577.4" r="2.15"/>
<circle cx="486.1" cy="583.9" r="2.15"/>
<circle cx="490.2" cy="588.4" r="2.15"/>
<circle cx="498.7" cy="587.2" r="2.15"/>
<circle cx="530" cy="589.6" r="2.15"/>
<circle cx="506.8" cy="595.3" r="2.15"/>
<circle cx="513.3" cy="594.5" r="2.15"/>
<circle cx="628.5" cy="596.1" r="2.15"/>
<circle cx="555.1" cy="605.4" r="2.15"/>
<circle cx="523.8" cy="609.5" r="2.15"/>
<circle cx="486.2" cy="619.5" r="2.15"/>
<circle cx="494.5" cy="624.4" r="2.15"/>
<circle cx="584.3" cy="636.7" r="2.15"/>
<text x="479.0" y="419.7" class="lt">B</text>
<text transform="translate(437.3,540.4) rotate(-90)" class="al" text-anchor="middle" textLength="210.9" lengthAdjust="spacing">The difference in body unit length (mm)</text>
<text x="611" y="714.5" class="al" text-anchor="middle" textLength="199" lengthAdjust="spacing">The degree of menton deviation (mm)</text>
<text x="737.5" y="649.1" class="rt" text-anchor="end" textLength="114.4" lengthAdjust="spacingAndGlyphs">r = 0.624, P &lt;0.001</text>
</svg>
</body></html>
